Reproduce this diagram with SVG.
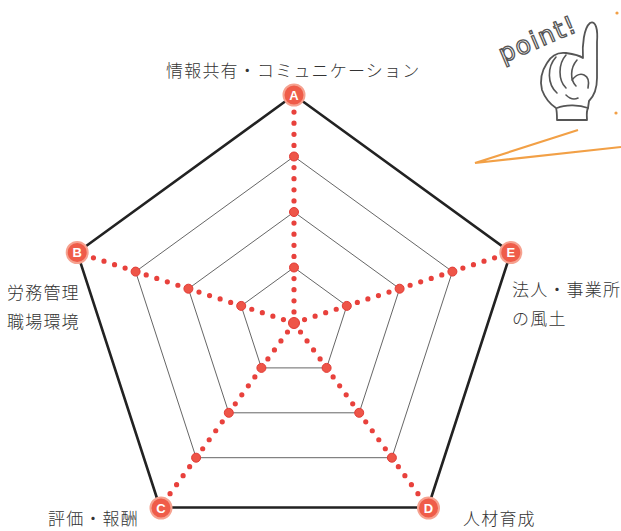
<svg xmlns="http://www.w3.org/2000/svg" width="621" height="531" viewBox="0 0 621 531">
<style>
.lbl{font-family:"Noto Sans CJK JP","Noto Sans CJK SC",sans-serif;font-size:17px;letter-spacing:1.2px;fill:#333;font-weight:300}
.ring{fill:none;stroke:#666;stroke-width:1}
.outer{fill:none;stroke:#222;stroke-width:2.6;stroke-linejoin:round}
.axis{stroke:#e8413c;stroke-width:5.2;stroke-linecap:round;stroke-dasharray:0 11.1}
.big{fill:#ee5548;stroke:#e23a35;stroke-width:1}
.vc{fill:#ef5c49;stroke:#f6a290;stroke-width:2}
.vt{font-family:"Liberation Sans",Arial,sans-serif;font-size:13px;font-weight:bold;fill:#fff;text-anchor:middle}
.hand{fill:#fff;stroke:#555;stroke-width:1.8;stroke-linecap:round;stroke-linejoin:round}
.hl{fill:none;stroke:#555;stroke-width:1.6;stroke-linecap:round}
</style>
<rect width="621" height="531" fill="#fff"/>
<g id="grid">
<polygon class="ring" points="294,267.5 346.8,305.9 326.6,367.9 261.4,367.9 241.2,305.9"/>
<polygon class="ring" points="294,212 399.6,288.7 359.2,412.8 228.8,412.8 188.4,288.7"/>
<polygon class="ring" points="294,156.5 452.4,271.6 391.9,457.7 196.1,457.7 135.6,271.6"/>
<polygon class="outer" points="294,95 510.8,252.5 428,507.5 160,507.5 77.2,252.5"/>
</g>
<g id="connectors">
<line class="axis" x1="294" y1="323" x2="294" y2="95"/>
<line class="axis" x1="294" y1="323" x2="510.8" y2="252.5"/>
<line class="axis" x1="294" y1="323" x2="428" y2="507.5"/>
<line class="axis" x1="294" y1="323" x2="160" y2="507.5"/>
<line class="axis" x1="294" y1="323" x2="77.2" y2="252.5"/>
</g>
<g id="level-dots">
<circle class="big" cx="294" cy="323" r="5.5"/>
<circle class="big" cx="294" cy="267.5" r="4.5"/>
<circle class="big" cx="346.8" cy="305.9" r="4.5"/>
<circle class="big" cx="326.6" cy="367.9" r="4.5"/>
<circle class="big" cx="261.4" cy="367.9" r="4.5"/>
<circle class="big" cx="241.2" cy="305.9" r="4.5"/>
<circle class="big" cx="294" cy="212" r="4.5"/>
<circle class="big" cx="399.6" cy="288.7" r="4.5"/>
<circle class="big" cx="359.2" cy="412.8" r="4.5"/>
<circle class="big" cx="228.8" cy="412.8" r="4.5"/>
<circle class="big" cx="188.4" cy="288.7" r="4.5"/>
<circle class="big" cx="294" cy="156.5" r="4.5"/>
<circle class="big" cx="452.4" cy="271.6" r="4.5"/>
<circle class="big" cx="391.9" cy="457.7" r="4.5"/>
<circle class="big" cx="196.1" cy="457.7" r="4.5"/>
<circle class="big" cx="135.6" cy="271.6" r="4.5"/>
</g>
<g id="node-A">
<circle class="vc" cx="294" cy="95" r="10.5"/>
<text class="vt" x="294" y="99.5">A</text>
<text class="lbl" x="166" y="77">情報共有・コミュニケーション</text>
</g>
<g id="node-B">
<circle class="vc" cx="77.2" cy="252.5" r="10.5"/>
<text class="vt" x="77.2" y="257">B</text>
<text class="lbl" x="7" y="299">労務管理</text>
<text class="lbl" x="7" y="328">職場環境</text>
</g>
<g id="node-C">
<circle class="vc" cx="161" cy="508" r="10.5"/>
<text class="vt" x="161" y="512.5">C</text>
<text class="lbl" x="48" y="525">評価・報酬</text>
</g>
<g id="node-D">
<circle class="vc" cx="428.5" cy="508" r="10.5"/>
<text class="vt" x="428.5" y="512.5">D</text>
<text class="lbl" x="463" y="525">人材育成</text>
</g>
<g id="node-E">
<circle class="vc" cx="510.8" cy="252.5" r="10.5"/>
<text class="vt" x="510.8" y="257">E</text>
<text class="lbl" x="512" y="296">法人・事業所</text>
<text class="lbl" x="512" y="325">の風土</text>
</g>
<g id="point">
<text x="503" y="63" transform="rotate(-23 503 63)" font-family="DejaVu Sans, sans-serif" font-size="25" letter-spacing="1.5" fill="#fff" stroke="#555" stroke-width="1.3">point!</text>
<path class="hand" d="M583,58 C582,45 584,28 590,23 C596,20 598,30 597,42 L597,78 C597,88 594,96 589,101 L588,108 C586,112 587,117 587,120 L557,120 C557,115 557,111 556,108 C550,104 545,98 542,90 C540,82 541,72 547,63 C551,56 558,52 566,53 C573,54 579,55 583,58 Z"/>
<path class="hl" d="M556,57 C547,67 547,84 557,93"/>
<path class="hl" d="M566,55 C558,64 558,80 566,88"/>
<path class="hl" d="M577,60 C570,68 570,80 576,86"/>
<path class="hl" d="M572,80 C580,70 591,74 588,88"/>
<path class="hl" d="M557,108 C566,104 580,105 588,108"/>
<path class="hl" d="M566,95 C570,99 574,100 578,98"/>
<polyline points="578,130 475,163 621,147" fill="none" stroke="#f2a046" stroke-width="2.2" stroke-linejoin="miter"/>
<circle cx="617" cy="13" r="1.6" fill="#f2a046"/>
<circle cx="616" cy="113" r="1.6" fill="#f2a046"/>
</g>
</svg>
